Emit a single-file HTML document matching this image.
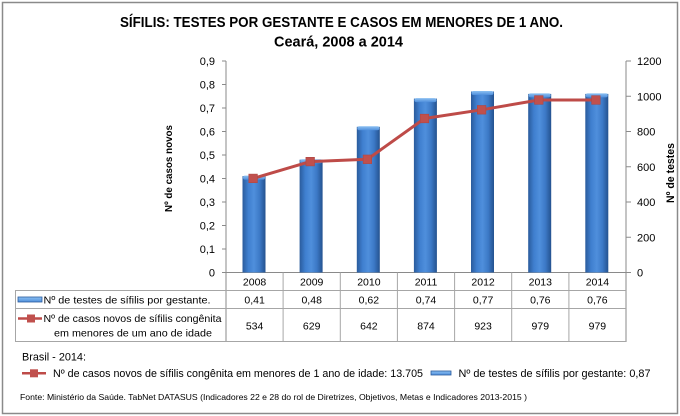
<!DOCTYPE html>
<html><head><meta charset="utf-8"><style>
html,body{margin:0;padding:0;background:#fff;}
svg{display:block;font-family:"Liberation Sans",sans-serif;}
</style></head><body>
<svg width="680" height="416" viewBox="0 0 680 416" xmlns="http://www.w3.org/2000/svg">
<defs>
<linearGradient id="bar" x1="0" y1="0" x2="1" y2="0">
<stop offset="0" stop-color="#2a5b9c"/>
<stop offset="0.25" stop-color="#3f7fcf"/>
<stop offset="0.5" stop-color="#4f8fdc"/>
<stop offset="0.75" stop-color="#3c79c6"/>
<stop offset="1" stop-color="#24528f"/>
</linearGradient>
<linearGradient id="cap" x1="0" y1="0" x2="0" y2="1">
<stop offset="0" stop-color="#8cc0f2"/>
<stop offset="1" stop-color="#4f8fdc"/>
</linearGradient>
</defs>
<rect x="0" y="0" width="680" height="416" fill="#fff"/>
<rect x="2.5" y="2.5" width="675" height="411" fill="none" stroke="#8a8a8a" stroke-width="1.5"/>

<!-- Title -->
<text x="341.5" y="27" text-anchor="middle" font-size="15" font-weight="bold" fill="#000" textLength="443" lengthAdjust="spacingAndGlyphs">SÍFILIS: TESTES POR GESTANTE E CASOS EM MENORES DE 1 ANO.</text>
<text x="338.5" y="46.5" text-anchor="middle" font-size="15" font-weight="bold" fill="#000" textLength="129" lengthAdjust="spacingAndGlyphs">Ceará, 2008 a 2014</text>

<!-- axis titles -->
<text transform="translate(172,168.5) rotate(-90)" text-anchor="middle" font-size="10.5" font-weight="bold" textLength="87" lengthAdjust="spacingAndGlyphs">Nº de casos  novos</text>
<text transform="translate(674,173) rotate(-90)" text-anchor="middle" font-size="11" font-weight="bold" textLength="60" lengthAdjust="spacingAndGlyphs">Nº de testes</text>

<!-- left axis -->
<g stroke="#8a8a8a" stroke-width="1">
<line x1="226" y1="61" x2="226" y2="342"/>
<line x1="626" y1="61" x2="626" y2="342"/>
<line x1="222" y1="272.5" x2="631" y2="272.5"/>
<line x1="222" y1="249" x2="226" y2="249"/>
<line x1="222" y1="225.5" x2="226" y2="225.5"/>
<line x1="222" y1="202" x2="226" y2="202"/>
<line x1="222" y1="178.5" x2="226" y2="178.5"/>
<line x1="222" y1="155" x2="226" y2="155"/>
<line x1="222" y1="131.5" x2="226" y2="131.5"/>
<line x1="222" y1="108" x2="226" y2="108"/>
<line x1="222" y1="84.5" x2="226" y2="84.5"/>
<line x1="222" y1="61" x2="226" y2="61"/>
<line x1="626" y1="237.25" x2="631" y2="237.25"/>
<line x1="626" y1="202" x2="631" y2="202"/>
<line x1="626" y1="166.75" x2="631" y2="166.75"/>
<line x1="626" y1="131.5" x2="631" y2="131.5"/>
<line x1="626" y1="96.25" x2="631" y2="96.25"/>
<line x1="626" y1="61" x2="631" y2="61"/>
</g>
<g font-size="11" fill="#000" text-anchor="end">
<text x="215" y="276.5">0</text>
<text x="215" y="253">0,1</text>
<text x="215" y="229.5">0,2</text>
<text x="215" y="206">0,3</text>
<text x="215" y="182.5">0,4</text>
<text x="215" y="159">0,5</text>
<text x="215" y="135.5">0,6</text>
<text x="215" y="112">0,7</text>
<text x="215" y="88.5">0,8</text>
<text x="215" y="65">0,9</text>
</g>
<g font-size="11" fill="#000" text-anchor="start">
<text x="637" y="276.5">0</text>
<text x="637" y="241.25">200</text>
<text x="637" y="206">400</text>
<text x="637" y="170.75">600</text>
<text x="637" y="135.5">800</text>
<text x="637" y="100.25">1000</text>
<text x="637" y="65">1200</text>
</g>

<!-- bars -->
<g>
<rect x="242.5" y="176.1" width="23" height="96.4" fill="url(#bar)"/>
<rect x="243" y="175.6" width="22" height="4" rx="2" fill="url(#cap)"/>
<rect x="299.6" y="159.7" width="23" height="112.8" fill="url(#bar)"/>
<rect x="300.1" y="159.2" width="22" height="4" rx="2" fill="url(#cap)"/>
<rect x="356.8" y="126.8" width="23" height="145.7" fill="url(#bar)"/>
<rect x="357.3" y="126.3" width="22" height="4" rx="2" fill="url(#cap)"/>
<rect x="413.9" y="98.6" width="23" height="173.9" fill="url(#bar)"/>
<rect x="414.4" y="98.1" width="22" height="4" rx="2" fill="url(#cap)"/>
<rect x="471" y="91.5" width="23" height="181" fill="url(#bar)"/>
<rect x="471.5" y="91" width="22" height="4" rx="2" fill="url(#cap)"/>
<rect x="528.2" y="93.9" width="23" height="178.6" fill="url(#bar)"/>
<rect x="528.7" y="93.4" width="22" height="4" rx="2" fill="url(#cap)"/>
<rect x="585.3" y="93.9" width="23" height="178.6" fill="url(#bar)"/>
<rect x="585.8" y="93.4" width="22" height="4" rx="2" fill="url(#cap)"/>
</g>

<!-- line -->
<polyline points="253.1,178.4 310.2,161.6 367.4,159.3 424.5,118.5 481.6,109.8 538.8,100 595.9,100" fill="none" stroke="#be4b48" stroke-width="3" stroke-linejoin="round"/>
<g fill="#c0504d" stroke="#b04643" stroke-width="0.6">
<rect x="248.8" y="174.1" width="8.6" height="8.6"/>
<rect x="305.9" y="157.3" width="8.6" height="8.6"/>
<rect x="363.1" y="155" width="8.6" height="8.6"/>
<rect x="420.2" y="114.2" width="8.6" height="8.6"/>
<rect x="477.3" y="105.5" width="8.6" height="8.6"/>
<rect x="534.5" y="95.7" width="8.6" height="8.6"/>
<rect x="591.6" y="95.7" width="8.6" height="8.6"/>
</g>

<!-- table -->
<g stroke="#a6a6a6" stroke-width="1">
<line x1="15" y1="290.5" x2="626" y2="290.5"/>
<line x1="15" y1="308.5" x2="626" y2="308.5"/>
<line x1="15" y1="341.5" x2="626" y2="341.5"/>
<line x1="15.5" y1="290.5" x2="15.5" y2="341.5"/>
<line x1="283.1" y1="272.5" x2="283.1" y2="341.5"/>
<line x1="340.3" y1="272.5" x2="340.3" y2="341.5"/>
<line x1="397.4" y1="272.5" x2="397.4" y2="341.5"/>
<line x1="454.6" y1="272.5" x2="454.6" y2="341.5"/>
<line x1="511.7" y1="272.5" x2="511.7" y2="341.5"/>
<line x1="568.9" y1="272.5" x2="568.9" y2="341.5"/>
</g>
<g font-size="10.5" fill="#000" text-anchor="middle">
<text x="254.6" y="285.5">2008</text>
<text x="311.7" y="285.5">2009</text>
<text x="368.9" y="285.5">2010</text>
<text x="426" y="285.5">2011</text>
<text x="483.1" y="285.5">2012</text>
<text x="540.3" y="285.5">2013</text>
<text x="597.4" y="285.5">2014</text>
<text x="254.6" y="303.5">0,41</text>
<text x="311.7" y="303.5">0,48</text>
<text x="368.9" y="303.5">0,62</text>
<text x="426" y="303.5">0,74</text>
<text x="483.1" y="303.5">0,77</text>
<text x="540.3" y="303.5">0,76</text>
<text x="597.4" y="303.5">0,76</text>
<text x="254.6" y="329.5">534</text>
<text x="311.7" y="329.5">629</text>
<text x="368.9" y="329.5">642</text>
<text x="426" y="329.5">874</text>
<text x="483.1" y="329.5">923</text>
<text x="540.3" y="329.5">979</text>
<text x="597.4" y="329.5">979</text>
</g>
<!-- table legend -->
<rect x="18" y="297" width="24" height="5" fill="url(#cap)" stroke="#2a5b9c" stroke-width="0.8"/>
<line x1="18" y1="318.5" x2="42" y2="318.5" stroke="#be4b48" stroke-width="2.5"/>
<rect x="27" y="314.5" width="8" height="8" fill="#c0504d"/>
<g font-size="10.5" fill="#000">
<text x="43.5" y="303.5" textLength="167" lengthAdjust="spacingAndGlyphs">Nº de testes de sífilis por gestante.</text>
<text x="43.5" y="322" textLength="178" lengthAdjust="spacingAndGlyphs">Nº de casos novos de sífilis congênita</text>
<text x="54" y="336.5" textLength="158" lengthAdjust="spacingAndGlyphs">em menores de um ano de idade</text>
</g>

<!-- bottom -->
<g font-size="11" fill="#000">
<text x="22" y="360.5" textLength="64" lengthAdjust="spacingAndGlyphs">Brasil - 2014:</text>
<text x="53" y="377" textLength="370" lengthAdjust="spacingAndGlyphs">Nº de casos novos de sífilis congênita em menores de 1 ano de idade: 13.705</text>
<text x="458.5" y="377" textLength="192" lengthAdjust="spacingAndGlyphs">Nº de testes de sífilis por gestante: 0,87</text>
</g>
<line x1="22" y1="373.3" x2="46" y2="373.3" stroke="#be4b48" stroke-width="2.5"/>
<rect x="30" y="369.3" width="8" height="8" fill="#c0504d"/>
<rect x="431" y="371" width="20" height="4" fill="url(#cap)" stroke="#2a5b9c" stroke-width="0.8"/>
<text x="20" y="400" font-size="8.5" fill="#000" textLength="507" lengthAdjust="spacingAndGlyphs">Fonte: Ministério da Saúde. TabNet DATASUS (Indicadores 22 e 28 do rol de Diretrizes, Objetivos, Metas e Indicadores 2013-2015 )</text>
</svg>
</body></html>
